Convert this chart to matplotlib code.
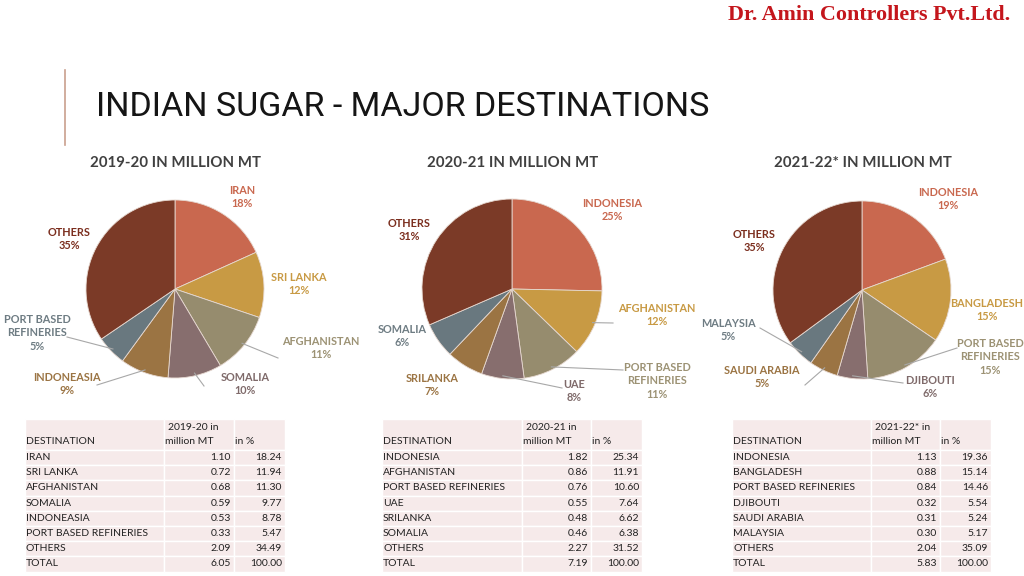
import numpy as np
import matplotlib.pyplot as plt
from matplotlib.lines import Line2D
from matplotlib.patches import Rectangle

W, H = 1024, 576

# ---------------------------------------------------------------
# data
# ---------------------------------------------------------------
years = ["2019-20", "2020-21", "2021-22*"]

dest_1920 = ["IRAN", "SRI LANKA", "AFGHANISTAN", "SOMALIA", "INDONEASIA", "PORT BASED REFINERIES", "OTHERS"]
mt_1920 = [1.10, 0.72, 0.68, 0.59, 0.53, 0.33, 2.09]
pct_1920 = [18.24, 11.94, 11.30, 9.77, 8.78, 5.47, 34.49]
lbl_pct_1920 = [18, 12, 11, 10, 9, 5, 35]
total_1920 = (6.05, 100.00)

dest_2021 = ["INDONESIA", "AFGHANISTAN", "PORT BASED REFINERIES", "UAE", "SRILANKA", "SOMALIA", "OTHERS"]
mt_2021 = [1.82, 0.86, 0.76, 0.55, 0.48, 0.46, 2.27]
pct_2021 = [25.34, 11.91, 10.60, 7.64, 6.62, 6.38, 31.52]
lbl_pct_2021 = [25, 12, 11, 8, 7, 6, 31]
total_2021 = (7.19, 100.00)

dest_2122 = ["INDONESIA", "BANGLADESH", "PORT BASED REFINERIES", "DJIBOUTI", "SAUDI ARABIA", "MALAYSIA", "OTHERS"]
mt_2122 = [1.13, 0.88, 0.84, 0.32, 0.31, 0.30, 2.04]
pct_2122 = [19.36, 15.14, 14.46, 5.54, 5.24, 5.17, 35.09]
lbl_pct_2122 = [19, 15, 15, 6, 5, 5, 35]
total_2122 = (5.83, 100.00)

# pie label names (line breaks as on the slide)
pie_names_1920 = ["IRAN", "SRI LANKA", "AFGHANISTAN", "SOMALIA", "INDONEASIA", "PORT BASED\nREFINERIES", "OTHERS"]
pie_names_2021 = ["INDONESIA", "AFGHANISTAN", "PORT BASED\nREFINERIES", "UAE", "SRILANKA", "SOMALIA", "OTHERS"]
pie_names_2122 = ["INDONESIA", "BANGLADESH", "PORT BASED\nREFINERIES", "DJIBOUTI", "SAUDI ARABIA", "MALAYSIA", "OTHERS"]

# ---------------------------------------------------------------
# style / layout
# ---------------------------------------------------------------
colors = ["#C9684F", "#C89A44", "#968C6E", "#876E6E", "#9B7443", "#69787F", "#7B3A27"]
label_colors = ["#C9684F", "#C89A44", "#9C9274", "#7F6A6A", "#9B7443", "#6E7C83", "#7B2E1E"]
line_col = "#A8A8A8"

body_font = ["Lato", "DejaVu Sans"]
title_font = ["Roboto", "DejaVu Sans"]

# pie centre / radius in pixels
pie_geom = [(175, 289, 89), (512, 289, 90), (862, 290, 89)]

# label centres (pixels) for every slice
label_pos = [
    [(242, 197), (299, 284), (321, 348), (245, 384), (67, 384), (37, 333), (69, 239)],
    [(612, 210), (657, 315), (657, 381), (574, 391), (432, 385), (402, 336), (409, 230)],
    [(948, 199), (987, 310), (990, 357), (930, 387), (762, 377), (728, 330), (754, 241)],
]
# leader line end points (pixels), None where there is no line
leader_end = [
    [None, None, (278, 358), (204, 386), (97, 385), (67, 337), None],
    [None, (613, 323), (623, 370), (562, 388), None, None, None],
    [None, None, (957, 348), (903, 383), (805, 385), (760, 328), None],
]

table_cols = [(25, 164, 234, 285), (382, 522, 591, 642), (732, 871, 940, 991)]


def fx(px):
    return px / W


def fy(py):
    return 1 - py / H


plt.rcParams["font.family"] = body_font

fig = plt.figure(figsize=(W / 100, H / 100), dpi=100)
fig.patch.set_facecolor("white")

# header
fig.text(fx(1010), fy(15), "Dr. Amin Controllers Pvt.Ltd.", ha="right", va="center",
         fontsize=15.8, fontweight="bold", color="#C4161C", family=["Liberation Serif", "DejaVu Serif"])
fig.add_artist(Line2D([fx(65), fx(65)], [fy(70), fy(145)], transform=fig.transFigure,
                      color="#C9A08E", lw=1.2))
fig.text(fx(96), fy(107), "INDIAN SUGAR - MAJOR DESTINATIONS", ha="left", va="center",
         fontsize=24.5, fontweight="normal", color="#151515", family=title_font)

all_pct = [pct_1920, pct_2021, pct_2122]
all_lbl = [lbl_pct_1920, lbl_pct_2021, lbl_pct_2122]
all_names = [pie_names_1920, pie_names_2021, pie_names_2122]

for k in range(3):
    cx, cy, r = pie_geom[k]
    fig.text(fx(cx + 1), fy(163), f"{years[k]} IN MILLION MT", ha="center", va="center",
             fontsize=10.8, fontweight="bold", color="#404040")

    ax = fig.add_axes([fx(cx - r), fy(cy + r), 2 * r / W, 2 * r / H])
    vals = np.array(all_pct[k])
    ax.pie(vals, colors=colors, startangle=90, counterclock=False, radius=1,
           wedgeprops=dict(edgecolor="#E6D8D0", linewidth=0.6))
    ax.set_xlim(-1, 1)
    ax.set_ylim(-1, 1)
    ax.axis("off")

    # slice mid angles for leader lines
    cum = np.cumsum(vals) - vals / 2
    mids = 90 - cum / vals.sum() * 360
    for i, name in enumerate(all_names[k]):
        lx, ly = label_pos[k][i]
        fig.text(fx(lx), fy(ly), f"{name}\n{all_lbl[k][i]}%", ha="center", va="center",
                 fontsize=7.8, fontweight="bold", color=label_colors[i], linespacing=1.25)
        end = leader_end[k][i]
        if end is not None:
            a = np.deg2rad(mids[i])
            sx = cx + r * 0.97 * np.cos(a)
            sy = cy - r * 0.97 * np.sin(a)
            fig.add_artist(Line2D([fx(sx), fx(end[0])], [fy(sy), fy(end[1])],
                                  transform=fig.transFigure, color=line_col, lw=0.8))

# tables
all_dest = [dest_1920, dest_2021, dest_2122]
all_mt = [mt_1920, mt_2021, mt_2122]
all_tot = [total_1920, total_2021, total_2122]
row_h = 15.2
top, head_bot = 419, 450
cell_bg = "#F6EAEA"
txt_col = "#222222"
fs_tab = 7.5
for k in range(3):
    x0, x1, x2, x3 = table_cols[k]
    rows = list(zip(all_dest[k], all_mt[k], all_pct[k])) + [("TOTAL",) + all_tot[k]]
    # background cells with white separators
    ys = [top, head_bot] + [head_bot + row_h * (j + 1) for j in range(len(rows))]
    for j in range(len(ys) - 1):
        for (a, b) in [(x0, x1), (x1, x2), (x2, x3)]:
            fig.add_artist(Rectangle((fx(a), fy(ys[j + 1])), (b - a) / W, (ys[j + 1] - ys[j]) / H,
                                     transform=fig.transFigure, facecolor=cell_bg,
                                     edgecolor="white", lw=1.0))
    fig.text(fx(x0 + 1), fy(442), "DESTINATION", ha="left", va="center", fontsize=fs_tab, color=txt_col)
    fig.text(fx(x1 + 4), fy(427), f"{years[k]} in", ha="left", va="center", fontsize=fs_tab, color=txt_col)
    fig.text(fx(x1 + 1), fy(442), "million MT", ha="left", va="center", fontsize=fs_tab, color=txt_col)
    fig.text(fx(x2 + 1), fy(442), "in %", ha="left", va="center", fontsize=fs_tab, color=txt_col)
    for j, (d, m, p) in enumerate(rows):
        yc = head_bot + row_h * j + row_h / 2
        fig.text(fx(x0 + 1), fy(yc), d, ha="left", va="center", fontsize=fs_tab, color=txt_col)
        fig.text(fx(x2 - 3), fy(yc), f"{m:.2f}", ha="right", va="center", fontsize=fs_tab, color=txt_col)
        fig.text(fx(x3 - 3), fy(yc), f"{p:.2f}", ha="right", va="center", fontsize=fs_tab, color=txt_col)

fig.savefig("out.png", dpi=100, facecolor="white")
